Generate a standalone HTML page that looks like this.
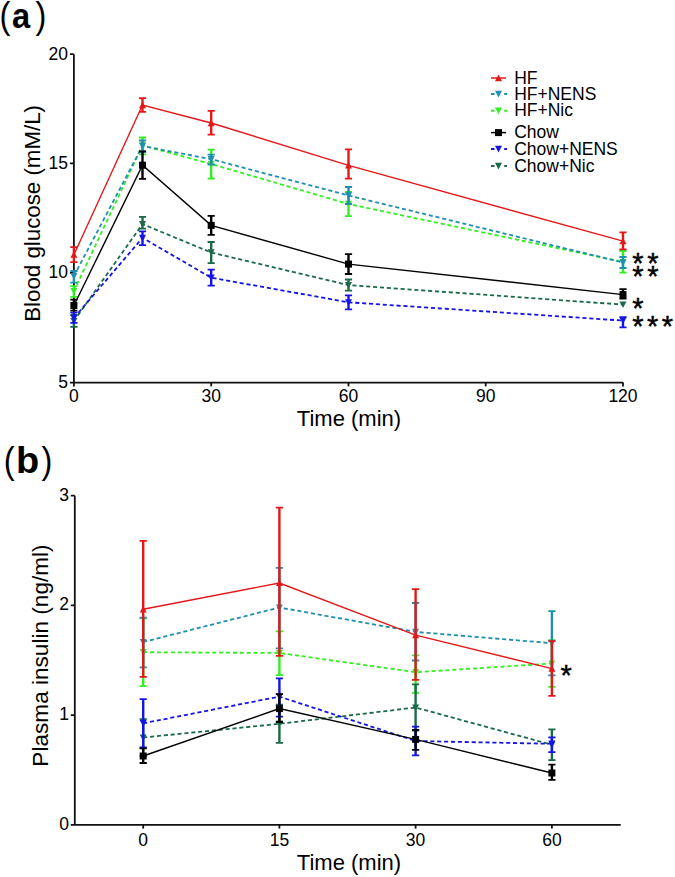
<!DOCTYPE html><html><head><meta charset="utf-8"><style>html,body{margin:0;padding:0;background:#fff;}svg{display:block;font-family:"Liberation Sans",sans-serif;}</style></head><body>
<svg width="675" height="877" viewBox="0 0 675 877" font-family="Liberation Sans, sans-serif">
<rect width="675" height="877" fill="#fff"/>
<text transform="translate(-0.6,28.2) scale(0.88,1)" font-size="37">(</text>
<text transform="translate(12.05,27.95) scale(0.92,1)" font-size="35.5" font-weight="bold">a</text>
<text transform="translate(35.5,28.2) scale(0.88,1)" font-size="37">)</text>
<path d="M73.9,54.2V382.6H623.2M69.9,54.2H73.9M69.9,382.6H73.9M73.9,163.4H69.9M73.9,272.9H69.9" stroke="#111" stroke-width="1.8" fill="none"/>
<path d="M73.9,382.6V386.4" stroke="#111" stroke-width="1.8"/>
<text x="73.9" y="401.8" font-size="17.5" text-anchor="middle">0</text>
<path d="M211.2,382.6V386.4" stroke="#111" stroke-width="1.8"/>
<text x="211.2" y="401.8" font-size="17.5" text-anchor="middle">30</text>
<path d="M348.5,382.6V386.4" stroke="#111" stroke-width="1.8"/>
<text x="348.5" y="401.8" font-size="17.5" text-anchor="middle">60</text>
<path d="M485.7,382.6V386.4" stroke="#111" stroke-width="1.8"/>
<text x="485.7" y="401.8" font-size="17.5" text-anchor="middle">90</text>
<path d="M623.0,382.6V386.4" stroke="#111" stroke-width="1.8"/>
<text x="623.0" y="401.8" font-size="17.5" text-anchor="middle">120</text>
<text x="67.9" y="59.6" font-size="17.5" text-anchor="end">20</text>
<text x="67.9" y="168.8" font-size="17.5" text-anchor="end">15</text>
<text x="67.9" y="278.3" font-size="17.5" text-anchor="end">10</text>
<text x="67.9" y="388.0" font-size="17.5" text-anchor="end">5</text>
<text x="349" y="426" font-size="22" text-anchor="middle">Time (min)</text>
<text transform="translate(39.6,213.4) rotate(-90)" font-size="22.3" text-anchor="middle">Blood glucose (mM/L)</text>
<polyline points="73.9,291.0 142.5,145.5 211.2,164.0 348.5,204.0 623.0,262.0" fill="none" stroke="#33ee22" stroke-width="1.8" stroke-dasharray="4.1 2.8"/>
<path d="M73.9,286.2V296.8" stroke="#33ee22" stroke-width="2.4"/>
<path d="M70.3,286.2H77.5M70.3,296.8H77.5" stroke="#33ee22" stroke-width="1.8"/>
<path d="M70.4,287.9L77.4,287.9L73.9,294.5Z" fill="#33ee22"/>
<path d="M142.5,137.5V154.3" stroke="#33ee22" stroke-width="2.4"/>
<path d="M138.9,137.5H146.1M138.9,154.3H146.1" stroke="#33ee22" stroke-width="1.8"/>
<path d="M139.0,142.3L146.0,142.3L142.5,149.0Z" fill="#33ee22"/>
<path d="M211.2,149.6V178.6" stroke="#33ee22" stroke-width="2.4"/>
<path d="M207.6,149.6H214.8M207.6,178.6H214.8" stroke="#33ee22" stroke-width="1.8"/>
<path d="M207.7,160.8L214.7,160.8L211.2,167.5Z" fill="#33ee22"/>
<path d="M348.5,192.0V216.2" stroke="#33ee22" stroke-width="2.4"/>
<path d="M344.9,192.0H352.1M344.9,216.2H352.1" stroke="#33ee22" stroke-width="1.8"/>
<path d="M345.0,200.8L352.0,200.8L348.5,207.5Z" fill="#33ee22"/>
<path d="M623.0,251.0V272.7" stroke="#33ee22" stroke-width="2.4"/>
<path d="M619.4,251.0H626.6M619.4,272.7H626.6" stroke="#33ee22" stroke-width="1.8"/>
<path d="M619.5,258.9L626.5,258.9L623.0,265.5Z" fill="#33ee22"/>
<polyline points="73.9,276.0 142.5,146.0 211.2,159.2 348.5,195.5 623.0,262.5" fill="none" stroke="#1f8fb0" stroke-width="1.8" stroke-dasharray="4.1 2.8"/>
<path d="M73.9,271.0V282.6" stroke="#1f8fb0" stroke-width="2.4"/>
<path d="M70.3,271.0H77.5M70.3,282.6H77.5" stroke="#1f8fb0" stroke-width="1.8"/>
<path d="M70.4,272.9L77.4,272.9L73.9,279.5Z" fill="#1f8fb0"/>
<path d="M142.5,140.5V151.5" stroke="#1f8fb0" stroke-width="2.4"/>
<path d="M138.9,140.5H146.1M138.9,151.5H146.1" stroke="#1f8fb0" stroke-width="1.8"/>
<path d="M139.0,142.8L146.0,142.8L142.5,149.5Z" fill="#1f8fb0"/>
<path d="M211.2,154.7V164.5" stroke="#1f8fb0" stroke-width="2.4"/>
<path d="M207.6,154.7H214.8M207.6,164.5H214.8" stroke="#1f8fb0" stroke-width="1.8"/>
<path d="M207.7,156.0L214.7,156.0L211.2,162.7Z" fill="#1f8fb0"/>
<path d="M348.5,187.0V204.0" stroke="#1f8fb0" stroke-width="2.4"/>
<path d="M344.9,187.0H352.1M344.9,204.0H352.1" stroke="#1f8fb0" stroke-width="1.8"/>
<path d="M345.0,192.3L352.0,192.3L348.5,199.0Z" fill="#1f8fb0"/>
<path d="M623.0,257.0V268.0" stroke="#1f8fb0" stroke-width="2.4"/>
<path d="M619.4,257.0H626.6M619.4,268.0H626.6" stroke="#1f8fb0" stroke-width="1.8"/>
<path d="M619.5,259.4L626.5,259.4L623.0,266.0Z" fill="#1f8fb0"/>
<polyline points="73.9,254.7 142.5,105.0 211.2,123.0 348.5,165.3 623.0,241.2" fill="none" stroke="#e41818" stroke-width="1.4"/>
<path d="M73.9,247.2V262.2" stroke="#e41818" stroke-width="2.4"/>
<path d="M70.3,247.2H77.5M70.3,262.2H77.5" stroke="#e41818" stroke-width="1.8"/>
<path d="M70.4,257.8L77.4,257.8L73.9,251.2Z" fill="#e41818"/>
<path d="M142.5,98.2V111.9" stroke="#e41818" stroke-width="2.4"/>
<path d="M138.9,98.2H146.1M138.9,111.9H146.1" stroke="#e41818" stroke-width="1.8"/>
<path d="M139.0,108.2L146.0,108.2L142.5,101.5Z" fill="#e41818"/>
<path d="M211.2,110.9V134.7" stroke="#e41818" stroke-width="2.4"/>
<path d="M207.6,110.9H214.8M207.6,134.7H214.8" stroke="#e41818" stroke-width="1.8"/>
<path d="M207.7,126.2L214.7,126.2L211.2,119.5Z" fill="#e41818"/>
<path d="M348.5,149.4V178.6" stroke="#e41818" stroke-width="2.4"/>
<path d="M344.9,149.4H352.1M344.9,178.6H352.1" stroke="#e41818" stroke-width="1.8"/>
<path d="M345.0,168.5L352.0,168.5L348.5,161.8Z" fill="#e41818"/>
<path d="M623.0,232.3V249.4" stroke="#e41818" stroke-width="2.4"/>
<path d="M619.4,232.3H626.6M619.4,249.4H626.6" stroke="#e41818" stroke-width="1.8"/>
<path d="M619.5,244.3L626.5,244.3L623.0,237.7Z" fill="#e41818"/>
<polyline points="73.9,321.0 142.5,224.1 211.2,252.5 348.5,285.1 623.0,304.6" fill="none" stroke="#1a6a48" stroke-width="1.8" stroke-dasharray="4.1 2.8"/>
<path d="M73.9,315.0V326.9" stroke="#1a6a48" stroke-width="2.4"/>
<path d="M70.3,315.0H77.5M70.3,326.9H77.5" stroke="#1a6a48" stroke-width="1.8"/>
<path d="M70.4,317.9L77.4,317.9L73.9,324.5Z" fill="#1a6a48"/>
<path d="M142.5,216.8V228.7" stroke="#1a6a48" stroke-width="2.4"/>
<path d="M138.9,216.8H146.1M138.9,228.7H146.1" stroke="#1a6a48" stroke-width="1.8"/>
<path d="M139.0,220.9L146.0,220.9L142.5,227.6Z" fill="#1a6a48"/>
<path d="M211.2,242.0V263.1" stroke="#1a6a48" stroke-width="2.4"/>
<path d="M207.6,242.0H214.8M207.6,263.1H214.8" stroke="#1a6a48" stroke-width="1.8"/>
<path d="M207.7,249.3L214.7,249.3L211.2,256.0Z" fill="#1a6a48"/>
<path d="M348.5,279.5V290.7" stroke="#1a6a48" stroke-width="2.4"/>
<path d="M344.9,279.5H352.1M344.9,290.7H352.1" stroke="#1a6a48" stroke-width="1.8"/>
<path d="M345.0,282.0L352.0,282.0L348.5,288.6Z" fill="#1a6a48"/>
<path d="M619.5,301.5L626.5,301.5L623.0,308.1Z" fill="#1a6a48"/>
<polyline points="73.9,318.0 142.5,237.8 211.2,277.7 348.5,302.3 623.0,320.6" fill="none" stroke="#1414e6" stroke-width="1.8" stroke-dasharray="4.1 2.8"/>
<path d="M73.9,312.6V322.8" stroke="#1414e6" stroke-width="2.4"/>
<path d="M70.3,312.6H77.5M70.3,322.8H77.5" stroke="#1414e6" stroke-width="1.8"/>
<path d="M70.4,314.9L77.4,314.9L73.9,321.5Z" fill="#1414e6"/>
<path d="M142.5,231.4V245.1" stroke="#1414e6" stroke-width="2.4"/>
<path d="M138.9,231.4H146.1M138.9,245.1H146.1" stroke="#1414e6" stroke-width="1.8"/>
<path d="M139.0,234.7L146.0,234.7L142.5,241.3Z" fill="#1414e6"/>
<path d="M211.2,269.7V285.6" stroke="#1414e6" stroke-width="2.4"/>
<path d="M207.6,269.7H214.8M207.6,285.6H214.8" stroke="#1414e6" stroke-width="1.8"/>
<path d="M207.7,274.6L214.7,274.6L211.2,281.2Z" fill="#1414e6"/>
<path d="M348.5,295.3V309.4" stroke="#1414e6" stroke-width="2.4"/>
<path d="M344.9,295.3H352.1M344.9,309.4H352.1" stroke="#1414e6" stroke-width="1.8"/>
<path d="M345.0,299.2L352.0,299.2L348.5,305.8Z" fill="#1414e6"/>
<path d="M623.0,317.2V327.4" stroke="#1414e6" stroke-width="2.4"/>
<path d="M619.4,317.2H626.6M619.4,327.4H626.6" stroke="#1414e6" stroke-width="1.8"/>
<path d="M619.5,317.5L626.5,317.5L623.0,324.1Z" fill="#1414e6"/>
<polyline points="73.9,305.5 142.5,165.2 211.2,225.4 348.5,264.1 623.0,294.6" fill="none" stroke="#000000" stroke-width="1.4"/>
<path d="M73.9,299.6V310.6" stroke="#000000" stroke-width="2.4"/>
<path d="M70.3,299.6H77.5M70.3,310.6H77.5" stroke="#000000" stroke-width="1.8"/>
<rect x="70.4" y="302.0" width="7.0" height="7.0" fill="#000000"/>
<path d="M142.5,151.5V178.9" stroke="#000000" stroke-width="2.4"/>
<path d="M138.9,151.5H146.1M138.9,178.9H146.1" stroke="#000000" stroke-width="1.8"/>
<rect x="139.0" y="161.7" width="7.0" height="7.0" fill="#000000"/>
<path d="M211.2,215.9V234.9" stroke="#000000" stroke-width="2.4"/>
<path d="M207.6,215.9H214.8M207.6,234.9H214.8" stroke="#000000" stroke-width="1.8"/>
<rect x="207.7" y="221.9" width="7.0" height="7.0" fill="#000000"/>
<path d="M348.5,254.2V274.0" stroke="#000000" stroke-width="2.4"/>
<path d="M344.9,254.2H352.1M344.9,274.0H352.1" stroke="#000000" stroke-width="1.8"/>
<rect x="345.0" y="260.6" width="7.0" height="7.0" fill="#000000"/>
<path d="M623.0,289.1V298.7" stroke="#000000" stroke-width="2.4"/>
<path d="M619.4,289.1H626.6M619.4,298.7H626.6" stroke="#000000" stroke-width="1.8"/>
<rect x="619.5" y="291.1" width="7.0" height="7.0" fill="#000000"/>
<text x="632.2" y="273.1" font-size="29" stroke="#000" stroke-width="0.45">*</text>
<text x="647.2" y="273.1" font-size="29" stroke="#000" stroke-width="0.45">*</text>
<text x="632.2" y="286.2" font-size="29" stroke="#000" stroke-width="0.45">*</text>
<text x="647.2" y="286.2" font-size="29" stroke="#000" stroke-width="0.45">*</text>
<text x="632.2" y="317.9" font-size="29" stroke="#000" stroke-width="0.45">*</text>
<text x="632.2" y="336.1" font-size="29" stroke="#000" stroke-width="0.45">*</text>
<text x="647.0" y="336.1" font-size="29" stroke="#000" stroke-width="0.45">*</text>
<text x="661.8" y="336.1" font-size="29" stroke="#000" stroke-width="0.45">*</text>
<path d="M491,78.0H506" stroke="#e41818" stroke-width="1.5"/>
<path d="M495.0,81.2L502.0,81.2L498.5,74.5Z" fill="#e41818"/>
<text x="514.2" y="83.6" font-size="17.5">HF</text>
<path d="M491,94.0H494.5M504.2,94.0H507" stroke="#1f8fb0" stroke-width="1.9"/>
<path d="M495.0,90.8L502.0,90.8L498.5,97.5Z" fill="#1f8fb0"/>
<text x="514.2" y="99.6" font-size="17.5">HF+NENS</text>
<path d="M491,110.8H494.5M504.2,110.8H507" stroke="#33ee22" stroke-width="1.9"/>
<path d="M495.0,107.6L502.0,107.6L498.5,114.3Z" fill="#33ee22"/>
<text x="514.2" y="116.4" font-size="17.5">HF+Nic</text>
<path d="M491,132.6H506" stroke="#000000" stroke-width="1.5"/>
<rect x="495.0" y="129.1" width="7.0" height="7.0" fill="#000000"/>
<text x="514.2" y="138.2" font-size="17.5">Chow</text>
<path d="M491,149.0H494.5M504.2,149.0H507" stroke="#1414e6" stroke-width="1.9"/>
<path d="M495.0,145.8L502.0,145.8L498.5,152.5Z" fill="#1414e6"/>
<text x="514.2" y="154.6" font-size="17.5">Chow+NENS</text>
<path d="M491,166.0H494.5M504.2,166.0H507" stroke="#1a6a48" stroke-width="1.9"/>
<path d="M495.0,162.8L502.0,162.8L498.5,169.5Z" fill="#1a6a48"/>
<text x="514.2" y="171.6" font-size="17.5">Chow+Nic</text>
<text transform="translate(3.8,473.3) scale(0.88,1)" font-size="37">(</text>
<text transform="translate(16.0,472.75) scale(1.04,1)" font-size="36.5" font-weight="bold">b</text>
<text transform="translate(41.5,473.3) scale(0.88,1)" font-size="37">)</text>
<path d="M74.8,495.7V824.8H620.7M70.8,495.7H74.8M70.8,605.4H74.8M70.8,715.1H74.8M70.8,824.8H74.8" stroke="#111" stroke-width="1.8" fill="none"/>
<path d="M143.2,824.8V828.6" stroke="#111" stroke-width="1.8"/>
<text x="143.2" y="845.8" font-size="17.5" text-anchor="middle">0</text>
<path d="M279.4,824.8V828.6" stroke="#111" stroke-width="1.8"/>
<text x="279.4" y="845.8" font-size="17.5" text-anchor="middle">15</text>
<path d="M415.6,824.8V828.6" stroke="#111" stroke-width="1.8"/>
<text x="415.6" y="845.8" font-size="17.5" text-anchor="middle">30</text>
<path d="M551.9,824.8V828.6" stroke="#111" stroke-width="1.8"/>
<text x="551.9" y="845.8" font-size="17.5" text-anchor="middle">60</text>
<text x="68.9" y="500.6" font-size="17.5" text-anchor="end">3</text>
<text x="68.9" y="610.3" font-size="17.5" text-anchor="end">2</text>
<text x="68.9" y="720.0" font-size="17.5" text-anchor="end">1</text>
<text x="68.9" y="829.7" font-size="17.5" text-anchor="end">0</text>
<text x="349" y="870.2" font-size="22" text-anchor="middle">Time (min)</text>
<text transform="translate(47.7,655.5) rotate(-90)" font-size="22.6" text-anchor="middle">Plasma insulin (ng/ml)</text>
<polyline points="143.2,652.2 279.4,653.0 415.6,672.2 551.9,663.5" fill="none" stroke="#33ee22" stroke-width="1.8" stroke-dasharray="4.1 2.8"/>
<path d="M143.2,618.3V686.1" stroke="#33ee22" stroke-width="2.4"/>
<path d="M139.6,618.3H146.8M139.6,686.1H146.8" stroke="#33ee22" stroke-width="1.8"/>
<path d="M139.7,649.1L146.7,649.1L143.2,655.7Z" fill="#33ee22"/>
<path d="M279.4,631.3V675.1" stroke="#33ee22" stroke-width="2.4"/>
<path d="M275.8,631.3H283.0M275.8,675.1H283.0" stroke="#33ee22" stroke-width="1.8"/>
<path d="M275.9,649.9L282.9,649.9L279.4,656.5Z" fill="#33ee22"/>
<path d="M415.6,655.4V692.9" stroke="#33ee22" stroke-width="2.4"/>
<path d="M412.0,655.4H419.2M412.0,692.9H419.2" stroke="#33ee22" stroke-width="1.8"/>
<path d="M412.1,669.1L419.1,669.1L415.6,675.7Z" fill="#33ee22"/>
<path d="M551.9,640.1V686.9" stroke="#33ee22" stroke-width="2.4"/>
<path d="M548.3,640.1H555.5M548.3,686.9H555.5" stroke="#33ee22" stroke-width="1.8"/>
<path d="M548.4,660.4L555.4,660.4L551.9,667.0Z" fill="#33ee22"/>
<polyline points="143.2,642.0 279.4,607.5 415.6,631.9 551.9,643.2" fill="none" stroke="#1f8fb0" stroke-width="1.8" stroke-dasharray="4.1 2.8"/>
<path d="M143.2,617.7V667.3" stroke="#1f8fb0" stroke-width="2.4"/>
<path d="M139.6,617.7H146.8M139.6,667.3H146.8" stroke="#1f8fb0" stroke-width="1.8"/>
<path d="M139.7,638.9L146.7,638.9L143.2,645.5Z" fill="#1f8fb0"/>
<path d="M279.4,567.8V648.4" stroke="#1f8fb0" stroke-width="2.4"/>
<path d="M275.8,567.8H283.0M275.8,648.4H283.0" stroke="#1f8fb0" stroke-width="1.8"/>
<path d="M275.9,604.4L282.9,604.4L279.4,611.0Z" fill="#1f8fb0"/>
<path d="M415.6,603.0V660.5" stroke="#1f8fb0" stroke-width="2.4"/>
<path d="M412.0,603.0H419.2M412.0,660.5H419.2" stroke="#1f8fb0" stroke-width="1.8"/>
<path d="M412.1,628.8L419.1,628.8L415.6,635.4Z" fill="#1f8fb0"/>
<path d="M551.9,611.2V675.4" stroke="#1f8fb0" stroke-width="2.4"/>
<path d="M548.3,611.2H555.5M548.3,675.4H555.5" stroke="#1f8fb0" stroke-width="1.8"/>
<path d="M548.4,640.1L555.4,640.1L551.9,646.7Z" fill="#1f8fb0"/>
<polyline points="143.2,609.3 279.4,583.0 415.6,635.1 551.9,668.6" fill="none" stroke="#e41818" stroke-width="1.4"/>
<path d="M143.2,540.8V676.8" stroke="#e41818" stroke-width="2.4"/>
<path d="M139.6,540.8H146.8M139.6,676.8H146.8" stroke="#e41818" stroke-width="1.8"/>
<path d="M139.7,612.4L146.7,612.4L143.2,605.8Z" fill="#e41818"/>
<path d="M279.4,507.7V655.8" stroke="#e41818" stroke-width="2.4"/>
<path d="M275.8,507.7H283.0M275.8,655.8H283.0" stroke="#e41818" stroke-width="1.8"/>
<path d="M275.9,586.1L282.9,586.1L279.4,579.5Z" fill="#e41818"/>
<path d="M415.6,589.2V679.8" stroke="#e41818" stroke-width="2.4"/>
<path d="M412.0,589.2H419.2M412.0,679.8H419.2" stroke="#e41818" stroke-width="1.8"/>
<path d="M412.1,638.2L419.1,638.2L415.6,631.6Z" fill="#e41818"/>
<path d="M551.9,641.2V695.8" stroke="#e41818" stroke-width="2.4"/>
<path d="M548.3,641.2H555.5M548.3,695.8H555.5" stroke="#e41818" stroke-width="1.8"/>
<path d="M548.4,671.8L555.4,671.8L551.9,665.1Z" fill="#e41818"/>
<polyline points="143.2,737.5 279.4,723.8 415.6,707.5 551.9,744.8" fill="none" stroke="#1a6a48" stroke-width="1.8" stroke-dasharray="4.1 2.8"/>
<path d="M143.2,719.2V755.8" stroke="#1a6a48" stroke-width="2.4"/>
<path d="M139.6,719.2H146.8M139.6,755.8H146.8" stroke="#1a6a48" stroke-width="1.8"/>
<path d="M139.7,734.4L146.7,734.4L143.2,741.0Z" fill="#1a6a48"/>
<path d="M279.4,704.7V742.9" stroke="#1a6a48" stroke-width="2.4"/>
<path d="M275.8,704.7H283.0M275.8,742.9H283.0" stroke="#1a6a48" stroke-width="1.8"/>
<path d="M275.9,720.6L282.9,720.6L279.4,727.3Z" fill="#1a6a48"/>
<path d="M415.6,684.4V730.6" stroke="#1a6a48" stroke-width="2.4"/>
<path d="M412.0,684.4H419.2M412.0,730.6H419.2" stroke="#1a6a48" stroke-width="1.8"/>
<path d="M412.1,704.4L419.1,704.4L415.6,711.0Z" fill="#1a6a48"/>
<path d="M551.9,729.3V760.2" stroke="#1a6a48" stroke-width="2.4"/>
<path d="M548.3,729.3H555.5M548.3,760.2H555.5" stroke="#1a6a48" stroke-width="1.8"/>
<path d="M548.4,741.6L555.4,741.6L551.9,748.3Z" fill="#1a6a48"/>
<polyline points="143.2,723.3 279.4,696.6 415.6,741.0 551.9,743.8" fill="none" stroke="#1414e6" stroke-width="1.8" stroke-dasharray="4.1 2.8"/>
<path d="M143.2,699.1V747.5" stroke="#1414e6" stroke-width="2.4"/>
<path d="M139.6,699.1H146.8M139.6,747.5H146.8" stroke="#1414e6" stroke-width="1.8"/>
<path d="M139.7,720.1L146.7,720.1L143.2,726.8Z" fill="#1414e6"/>
<path d="M279.4,678.3V716.6" stroke="#1414e6" stroke-width="2.4"/>
<path d="M275.8,678.3H283.0M275.8,716.6H283.0" stroke="#1414e6" stroke-width="1.8"/>
<path d="M275.9,693.5L282.9,693.5L279.4,700.1Z" fill="#1414e6"/>
<path d="M415.6,726.6V755.4" stroke="#1414e6" stroke-width="2.4"/>
<path d="M412.0,726.6H419.2M412.0,755.4H419.2" stroke="#1414e6" stroke-width="1.8"/>
<path d="M412.1,737.9L419.1,737.9L415.6,744.5Z" fill="#1414e6"/>
<path d="M551.9,737.4V752.2" stroke="#1414e6" stroke-width="2.4"/>
<path d="M548.3,737.4H555.5M548.3,752.2H555.5" stroke="#1414e6" stroke-width="1.8"/>
<path d="M548.4,740.6L555.4,740.6L551.9,747.3Z" fill="#1414e6"/>
<polyline points="143.2,756.0 279.4,708.6 415.6,739.4 551.9,773.0" fill="none" stroke="#000000" stroke-width="1.4"/>
<path d="M143.2,748.4V763.0" stroke="#000000" stroke-width="2.4"/>
<path d="M139.6,748.4H146.8M139.6,763.0H146.8" stroke="#000000" stroke-width="1.8"/>
<rect x="139.7" y="752.5" width="7.0" height="7.0" fill="#000000"/>
<path d="M279.4,694.2V722.0" stroke="#000000" stroke-width="2.4"/>
<path d="M275.8,694.2H283.0M275.8,722.0H283.0" stroke="#000000" stroke-width="1.8"/>
<rect x="275.9" y="705.1" width="7.0" height="7.0" fill="#000000"/>
<path d="M415.6,729.9V749.8" stroke="#000000" stroke-width="2.4"/>
<path d="M412.0,729.9H419.2M412.0,749.8H419.2" stroke="#000000" stroke-width="1.8"/>
<rect x="412.1" y="735.9" width="7.0" height="7.0" fill="#000000"/>
<path d="M551.9,764.7V779.8" stroke="#000000" stroke-width="2.4"/>
<path d="M548.3,764.7H555.5M548.3,779.8H555.5" stroke="#000000" stroke-width="1.8"/>
<rect x="548.4" y="769.5" width="7.0" height="7.0" fill="#000000"/>
<text x="560.6" y="684.6" font-size="29" stroke="#000" stroke-width="0.45">*</text>
</svg></body></html>
